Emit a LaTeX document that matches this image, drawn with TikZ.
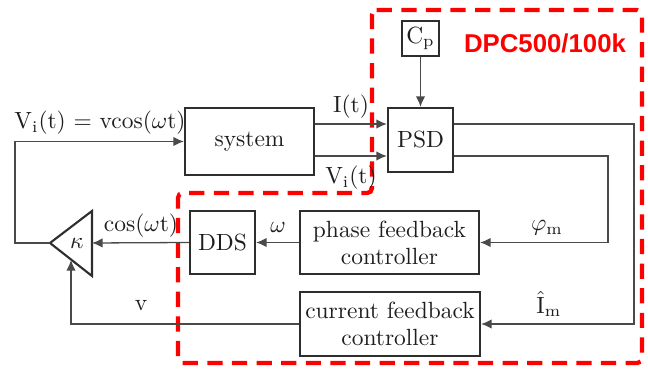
\documentclass[tikz,border=0pt]{standalone}
\usepackage{fontspec}
\usepackage{amsmath}
\usepackage{tikz}
\usetikzlibrary{
arrows.meta,
positioning,
calc
}
\newfontfamily\dpcfont{Liberation Sans}
\definecolor{fbred}{HTML}{FF0000}
\definecolor{fbline}{HTML}{4A4A4A}
\definecolor{fbbox}{HTML}{2E2E2E}
\definecolor{fbtext}{HTML}{1E1E1E}

\begin{document}
\begin{tikzpicture}[
  x=0.015cm, y=-0.015cm,
  >={Latex[length=4.5pt,width=4pt]},
  every node/.style={font=\fontsize{10}{11.5}\selectfont, text=fbtext},
  block/.style={draw=fbbox, line width=0.9pt, fill=white, align=center,
                inner sep=1pt},
  wire/.style={draw=fbline, line width=0.55pt},
  sig/.style={inner sep=0.5pt}
]
\useasboundingbox (0,0) rectangle (648,373);

%% ── DPC500/100k REGION ──────────────────────────────────────
\draw[fbred, line width=1.8pt, dash pattern=on 6.5pt off 4pt,
      rounded corners=2pt]
  (372,10) -- (642,10) -- (642,363) -- (178,363) -- (178,193)
  -- (372,193) -- cycle;
\node[font=\dpcfont\bfseries\fontsize{11}{13}\selectfont, text=fbred]
  (dpc) at (545,43) {DPC500/100k};

%% Blocks
\node[block, minimum width=1.935cm, minimum height=1.005cm]
  (system) at (249.5,141.5) {system};
\node[block, minimum width=0.975cm, minimum height=0.96cm]
  (psd) at (420.5,140) {PSD};
\node[block, minimum width=0.555cm, minimum height=0.525cm]
  (cp) at (420.5,38.5) {C\textsubscript{p}};
\node[block, minimum width=0.975cm, minimum height=0.945cm]
  (dds) at (222.5,242.5) {DDS};
\node[block, minimum width=2.685cm, minimum height=0.945cm]
  (phase) at (389.5,242.5) {phase feedback\\controller};
\node[block, minimum width=2.7cm, minimum height=0.96cm]
  (current) at (390,324) {current feedback\\controller};

%% Gain triangle
\draw[fbbox, line width=0.9pt, line join=miter]
  (50,243) -- (92,211) -- (92,276) -- cycle;
\node (kappa) at (77,243) {$\kappa$};
\coordinate (kin)  at (50,243);
\coordinate (kright) at (92,243);
\coordinate (kbot) at (71,260);

%% ── CONNECTORS ──────────────────────────────────────────────
\draw[wire, ->] (kin) -- ++(-35,0) |- (system.west);
\draw[wire, ->] ([yshift=0.24cm]system.east |- psd.west)
  -- ([yshift=0.24cm]psd.west);
\draw[wire, ->] ([yshift=-0.24cm]system.east |- psd.west)
  -- ([yshift=-0.24cm]psd.west);
\draw[wire, ->] (cp) -- (psd);
\draw[wire, ->] ([yshift=0.24cm]psd.east) -- ++(180,0) |- (current.east);
\draw[wire, ->] ([yshift=-0.24cm]psd.east) -- ++(154,0) |- (phase.east);
\draw[wire, ->] (phase) -- (dds);
\draw[wire, ->] (dds.west) -- (kright);
\draw[wire, ->] (current.west) -| (kbot);

%% Signal labels
\node[sig] (vin)  at (100,123) {V\textsubscript{i}(t) = vcos($\omega$t)};
\node[sig] (it)   at (351,107) {I(t)};
\node[sig] (vit)  at (351,178) {V\textsubscript{i}(t)};
\node[sig] (om)   at (278,227) {$\omega$};
\node[sig] (cosw) at (141,226) {cos($\omega$t)};
\node[sig] (vv)   at (141,306) {v};
\node[sig] (phim) at (547,228) {$\varphi_{\mathrm{m}}$};
\node[sig] (imh)  at (549,304) {$\hat{\mathrm{I}}_{\mathrm{m}}$};

\end{tikzpicture}
\end{document}
